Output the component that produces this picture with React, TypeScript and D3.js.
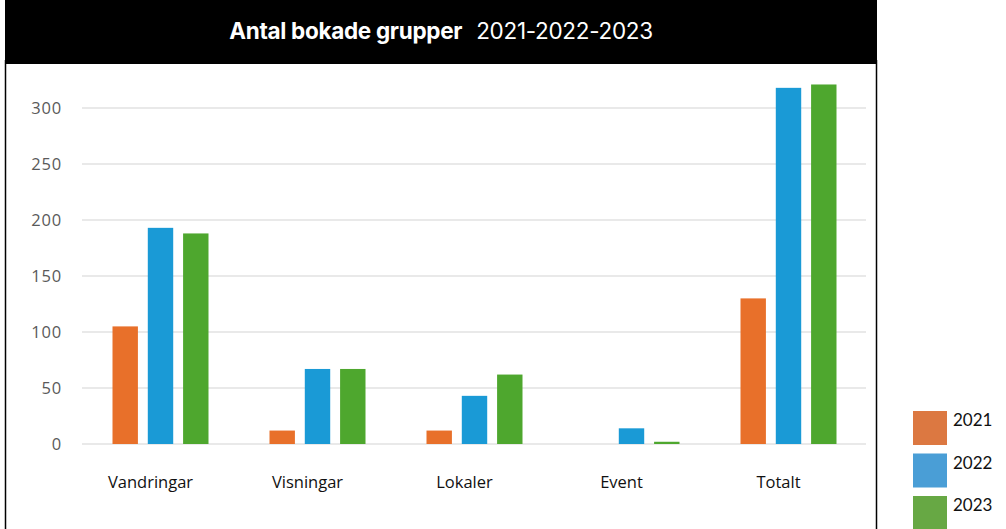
import { useEffect, useRef } from "react";
import * as d3 from "d3";

const categories = ["Vandringar", "Visningar", "Lokaler", "Event", "Totalt"];
const years = ["2021", "2022", "2023"];
const values2021 = [105, 12, 12, 0, 130];
const values2022 = [193, 67, 43, 14, 318];
const values2023 = [188, 67, 62, 2, 321];
const yTicks = [0, 50, 100, 150, 200, 250, 300];

const barColors = ["#e8702a", "#1a9ad6", "#4ea72e"];
const legendColors = ["#dc7841", "#4a9ed6", "#67a844"];

export default function App() {
  const svgRef = useRef<SVGSVGElement>(null);

  useEffect(() => {
    document.body.style.margin = "0";
    if (!svgRef.current) return;
    const width = 1006;
    const height = 529;
    const svg = d3.select(svgRef.current).attr("width", width).attr("height", height);
    svg.selectAll("*").remove();

    const series = [values2021, values2022, values2023];

    // frame + title bar
    svg.append("rect").attr("x", 5).attr("y", 0).attr("width", 872).attr("height", 64).attr("fill", "#000");
    svg.append("line").attr("x1", 5.5).attr("x2", 5.5).attr("y1", 60).attr("y2", height).attr("stroke", "#000").attr("stroke-width", 1.5);
    svg.append("line").attr("x1", 876.5).attr("x2", 876.5).attr("y1", 60).attr("y2", height).attr("stroke", "#000").attr("stroke-width", 1.5);

    const title = svg.append("text")
      .attr("x", 441).attr("y", 39)
      .attr("text-anchor", "middle")
      .attr("fill", "#fff")
      .attr("font-family", "Inter, 'Liberation Sans', sans-serif")
      .attr("font-size", 22.5)
      .attr("letter-spacing", "-0.3");
    title.append("tspan").attr("font-weight", 700).text("Antal bokade grupper");
    title.append("tspan").attr("font-weight", 400).attr("dx", 14).text("2021-2022-2023");

    const x = d3.scaleBand<string>().domain(categories).range([82, 867]);
    const y = d3.scaleLinear().domain([0, 300]).range([444, 108]);
    const inner = d3.scaleBand<string>().domain(years).range([0, 96]).paddingInner(0.28);
    const groupOffset = (x.bandwidth() - 96) / 2;

    // gridlines
    svg.append("g").selectAll("line").data(yTicks).enter().append("line")
      .attr("x1", 82).attr("x2", 866)
      .attr("y1", (d) => y(d)).attr("y2", (d) => y(d))
      .attr("stroke", "#e2e2e2").attr("stroke-width", 1.5);

    svg.append("g").selectAll("text").data(yTicks).enter().append("text")
      .attr("x", 62).attr("y", (d) => y(d) + 6)
      .attr("text-anchor", "end")
      .attr("fill", "#5a5a5a")
      .attr("font-family", "'Open Sans', Lato, sans-serif")
      .attr("font-size", 16.5)
      .attr("letter-spacing", "0.8")
      .text((d) => d);

    // bars
    years.forEach((yr, i) => {
      svg.append("g").selectAll("rect").data(categories).enter().append("rect")
        .attr("x", (c) => (x(c) ?? 0) + groupOffset + (inner(yr) ?? 0))
        .attr("y", (c, j) => y(series[i][j]))
        .attr("width", inner.bandwidth())
        .attr("height", (c, j) => y(0) - y(series[i][j]))
        .attr("fill", barColors[i]);
    });

    // category labels
    svg.append("g").selectAll("text").data(categories).enter().append("text")
      .attr("x", (c) => (x(c) ?? 0) + x.bandwidth() / 2 - 10)
      .attr("y", 488)
      .attr("text-anchor", "middle")
      .attr("fill", "#111")
      .attr("font-family", "'Open Sans', Lato, sans-serif")
      .attr("font-size", 16.5)
      .text((c) => c);

    // legend
    const legend = svg.append("g").selectAll("g").data(years).enter().append("g")
      .attr("transform", (d, i) => `translate(913,${411 + i * 42.5})`);
    legend.append("rect").attr("width", 34).attr("height", 34).attr("fill", (d, i) => legendColors[i]);
    legend.append("text")
      .attr("x", 40).attr("y", 15)
      .attr("fill", "#111")
      .attr("font-family", "Lato, 'Open Sans', sans-serif")
      .attr("font-size", 17)
      .text((d) => d);
  }, []);

  return <svg ref={svgRef} style={{ display: "block", background: "#fff" }} />;
}
